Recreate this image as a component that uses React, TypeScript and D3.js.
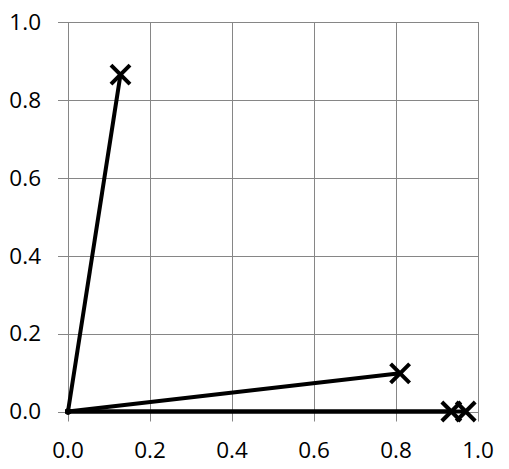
import React, { useRef, useEffect } from 'react';
import * as d3 from 'd3';

// each series is a line from the origin to one point
const seriesNames = ['A', 'B', 'C', 'D'];
const startX = [0, 0, 0, 0];
const startY = [0, 0, 0, 0];
const endX = [0.128, 0.81, 0.935, 0.97];
const endY = [0.865, 0.098, 0, 0];
const tickValues = [0, 0.2, 0.4, 0.6, 0.8, 1.0];

const App = () => {
  const ref = useRef<SVGSVGElement>(null);
  const width = 509;
  const height = 469;

  useEffect(() => {
    const margin = { top: 22, right: 31, bottom: 57.5, left: 68 };
    const svg = d3.select(ref.current);
    svg.selectAll('*').remove();

    const x = d3.scaleLinear().domain([0, 1]).range([margin.left, width - margin.right]);
    const y = d3.scaleLinear().domain([0, 1]).range([height - margin.bottom, margin.top]);

    const grid = svg.append('g').attr('stroke', '#868686').attr('stroke-width', 1);

    // vertical gridlines, with outward tick below
    grid.selectAll('line.v')
      .data(tickValues)
      .join('line')
      .attr('class', 'v')
      .attr('x1', d => Math.round(x(d)) + 0.5)
      .attr('x2', d => Math.round(x(d)) + 0.5)
      .attr('y1', y(1))
      .attr('y2', y(0) + 10);

    // horizontal gridlines, with outward tick left
    grid.selectAll('line.h')
      .data(tickValues)
      .join('line')
      .attr('class', 'h')
      .attr('x1', x(0) - 10)
      .attr('x2', x(1))
      .attr('y1', d => Math.round(y(d)) + 0.5)
      .attr('y2', d => Math.round(y(d)) + 0.5);

    const font = "'Open Sans', 'Liberation Sans', sans-serif";

    svg.append('g')
      .selectAll('text')
      .data(tickValues)
      .join('text')
      .attr('x', 41)
      .attr('y', d => y(d))
      .attr('dy', '0.35em')
      .attr('text-anchor', 'end')
      .attr('font-family', font)
      .attr('font-size', 22.5)
      .attr('fill', '#000')
      .text(d => d3.format('.1f')(d));

    svg.append('g')
      .selectAll('text')
      .data(tickValues)
      .join('text')
      .attr('x', d => x(d))
      .attr('y', 458)
      .attr('text-anchor', 'middle')
      .attr('font-family', font)
      .attr('font-size', 22.5)
      .attr('fill', '#000')
      .text(d => d3.format('.1f')(d));

    const data = seriesNames.map((name, i) => ({
      name,
      pts: [[startX[i], startY[i]], [endX[i], endY[i]]] as [number, number][],
    }));

    const line = d3.line<[number, number]>()
      .x(d => x(d[0]))
      .y(d => y(d[1]));

    const series = svg.append('g');

    series.selectAll('path')
      .data(data)
      .join('path')
      .attr('d', d => line(d.pts))
      .attr('fill', 'none')
      .attr('stroke', '#000')
      .attr('stroke-width', 4);

    // small marker at origin
    series.selectAll('circle')
      .data(data)
      .join('circle')
      .attr('cx', d => x(d.pts[0][0]))
      .attr('cy', d => y(d.pts[0][1]))
      .attr('r', 3)
      .attr('fill', '#000');

    // X markers at end points
    const s = 9.5;
    series.selectAll('path.mark')
      .data(data)
      .join('path')
      .attr('class', 'mark')
      .attr('d', d => {
        const cx = x(d.pts[1][0]);
        const cy = y(d.pts[1][1]);
        return `M${cx - s},${cy - s}L${cx + s},${cy + s}M${cx - s},${cy + s}L${cx + s},${cy - s}`;
      })
      .attr('fill', 'none')
      .attr('stroke', '#000')
      .attr('stroke-width', 4);
  }, []);

  return (
    <svg
      ref={ref}
      width={width}
      height={height}
      style={{ position: 'absolute', left: 0, top: 0, background: '#fff' }}
    ></svg>
  );
};

export default App;
